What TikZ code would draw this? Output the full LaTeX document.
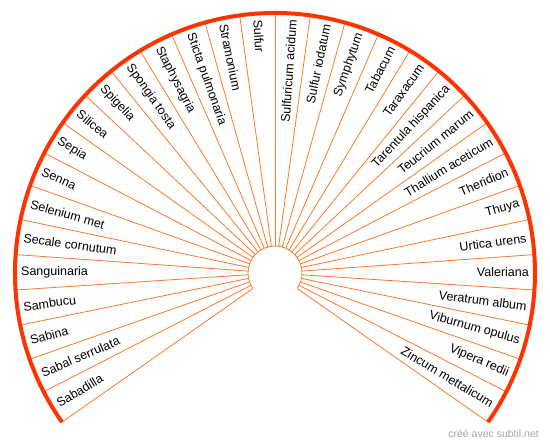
\documentclass[tikz,border=0pt]{standalone}
\usepackage{fontspec}
\setmainfont{Liberation Sans}
\definecolor{arcred}{RGB}{255,51,0}
\definecolor{rayorange}{RGB}{255,120,40}
\definecolor{creditgray}{RGB}{165,165,165}
\tikzset{
  ray/.style={draw=rayorange,line width=0.8pt},
  rim/.style={draw=arcred,line width=4pt},
  lbl/.style={inner sep=0pt,font=\fontsize{12.5}{15}\selectfont},
}
\begin{document}
\begin{tikzpicture}[x=1pt,y=1pt]
\useasboundingbox (-275,-174) rectangle (275,273);
% rays
\foreach \i in {0,...,32}{
\pgfmathsetmacro{\a}{215-\i*7.8125}
\coordinate (in\i) at (\a:27);
\coordinate (out\i) at (\a:260);
\draw[ray] (in\i) -- (out\i);
}
\draw[ray] (in0) arc (215:-35:27);
\draw[rim] (out0) arc (215:-35:260);
% labels
\foreach \name [count=\k] in {Sabadilla,Sabal serrulata,Sabina,Sambucu,Sanguinaria,Secale cornutum,Selenium met,Senna,Sepia,Silicea,Spigelia,Spongia tosta,Staphysagria,Sticta pulmonaria,Stramonium,Sulfur,Sulfuricum acidum,Sulfur iodatum,Symphytum,Tabacum,Taraxacum,Tarentula hispanica,Teucrium marum,Thallium aceticum,Theridion,Thuya,Urtica urens,Valeriana,Veratrum album,Viburnum opulus,Vipera redii,Zincum mettalicum}{
\pgfmathsetmacro{\a}{215-(\k-0.5)*7.8125}
\ifnum\k<17
\node[lbl,anchor=west,rotate=\a-180] (lbl\k) at (\a:254) {\name};
\else
\node[lbl,anchor=east,rotate=\a] (lbl\k) at (\a:254) {\name};
\fi
}
\node[anchor=base east,inner sep=0pt,text=creditgray,font=\fontsize{10.5}{12}\selectfont] (credit) at (264,-165) {créé avec subtil.net};
\end{tikzpicture}
\end{document}
